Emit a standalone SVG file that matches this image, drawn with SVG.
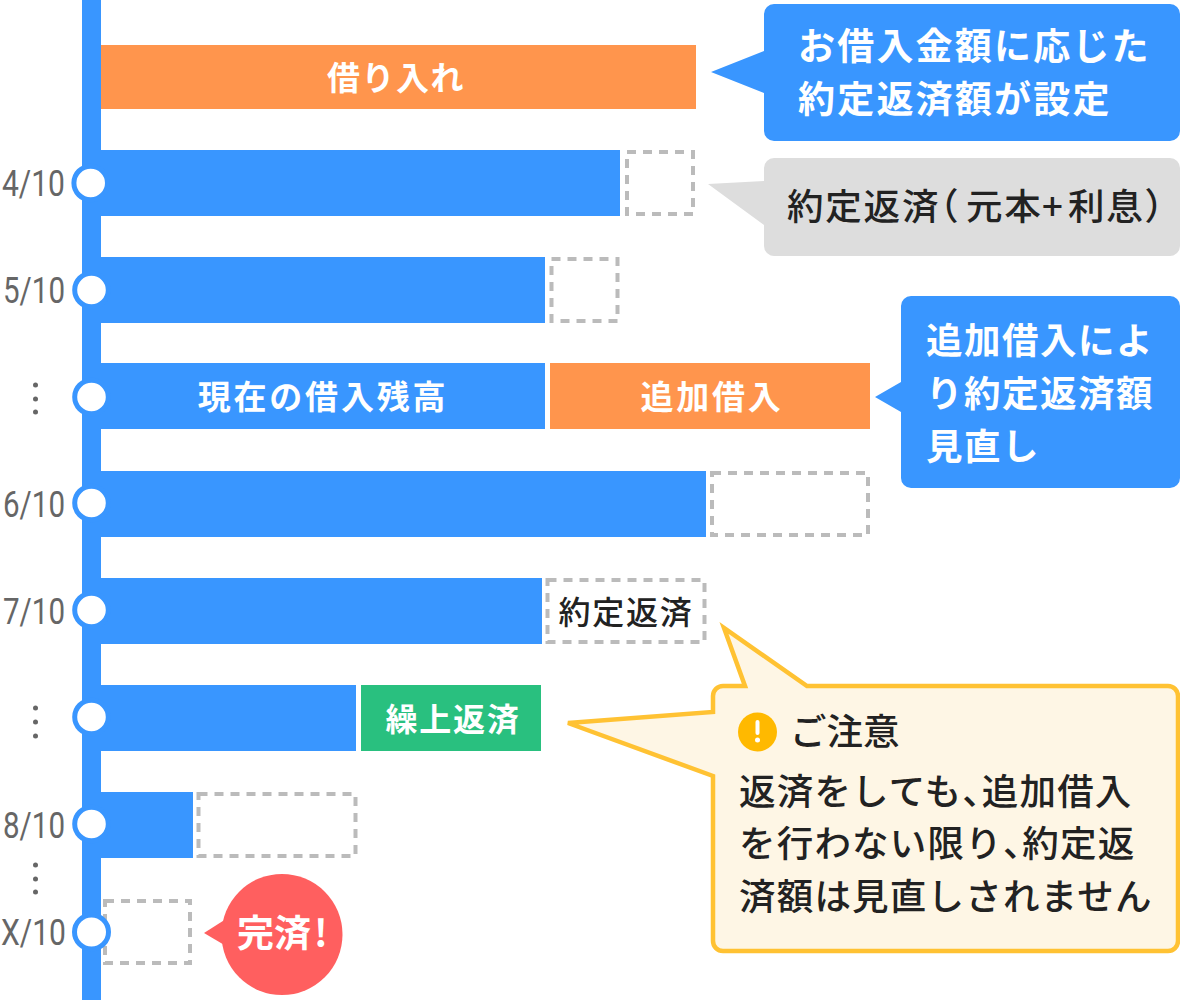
<svg xmlns="http://www.w3.org/2000/svg" width="1180" height="1000" viewBox="0 0 1180 1000">
<style>
text{font-family:"Noto Sans CJK JP","Noto Sans",sans-serif;font-weight:700}
.w{fill:#fff;font-size:33px;letter-spacing:2.500px}
.c{text-anchor:middle}
.k{fill:#222;font-size:36.500px;letter-spacing:1.200px;font-weight:500}
.h{font-feature-settings:"halt"}
.d{fill:#fff;stroke:#bbb;stroke-width:4;stroke-dasharray:9 7}
.b{fill:#3996ff}.o{fill:#ff954d}
.l{font-family:Roboto,"Liberation Sans",sans-serif;font-weight:400;font-size:36px;fill:#666}
.n{fill:#fff;stroke:#3996ff;stroke-width:5}
.v{fill:#666}
.t{font-size:36.500px}
</style>
<rect id="timeline" x="82" y="0" width="19" height="1000" class="b"/>
<g id="bars">
<rect id="bar-borrow" x="101" y="45" width="595" height="64" class="o"/>
<text class="w c" x="396" y="90" style="letter-spacing:1.500px">借り入れ</text>
<rect x="101" y="150" width="519" height="66" class="b"/>
<rect x="627" y="152" width="66" height="62" class="d"/>
<rect x="101" y="257" width="444" height="66" class="b"/>
<rect x="551.500" y="259" width="66" height="62" class="d"/>
<rect x="101" y="363" width="444" height="66" class="b"/>
<text class="w c" x="323" y="409" style="letter-spacing:2.800px">現在の借入残高</text>
<rect x="550" y="363" width="320" height="66" class="o"/>
<text class="w c" x="712" y="409" style="letter-spacing:2.800px">追加借入</text>
<rect x="101" y="471" width="605" height="66" class="b"/>
<rect x="712" y="473" width="156" height="62" class="d"/>
<rect x="101" y="578" width="441" height="66" class="b"/>
<rect x="547.500" y="580" width="157" height="62" class="d"/>
<text class="k c" x="626" y="624" style="font-size:32px;letter-spacing:1.800px">約定返済</text>
<rect x="101" y="685" width="255" height="66" class="b"/>
<rect x="361" y="685" width="180" height="66" fill="#29c07f"/>
<text class="w c" x="453" y="731" style="font-size:32px;letter-spacing:1.800px">繰上返済</text>
<rect x="101" y="792" width="92" height="66" class="b"/>
<rect x="198.500" y="794" width="157" height="62" class="d"/>
<rect x="105" y="901" width="85" height="62" class="d"/>
</g>
<g id="nodes">
<g id="n1"><text class="l" x="2" y="196" textLength="63" lengthAdjust="spacingAndGlyphs">4/10</text><circle class="n" cx="90.700" cy="183" r="16.800"/></g>
<g id="n2"><text class="l" x="3" y="303" textLength="62" lengthAdjust="spacingAndGlyphs">5/10</text><circle class="n" cx="91.500" cy="290" r="16.800"/></g>
<g id="n3"><circle class="v" cx="35.500" cy="385" r="2.500"/><circle class="v" cx="35.500" cy="399" r="2.500"/><circle class="v" cx="35.500" cy="412" r="2.500"/><circle class="n" cx="91.500" cy="397" r="16.800"/></g>
<g id="n4"><text class="l" x="3" y="517" textLength="62" lengthAdjust="spacingAndGlyphs">6/10</text><circle class="n" cx="91.500" cy="503" r="16.800"/></g>
<g id="n5"><text class="l" x="3" y="624" textLength="62" lengthAdjust="spacingAndGlyphs">7/10</text><circle class="n" cx="91.500" cy="610" r="16.800"/></g>
<g id="n6"><circle class="v" cx="35.500" cy="708" r="2.500"/><circle class="v" cx="35.500" cy="722" r="2.500"/><circle class="v" cx="35.500" cy="736" r="2.500"/><circle class="n" cx="91.500" cy="717" r="16.800"/></g>
<g id="n7"><text class="l" x="3" y="838" textLength="62" lengthAdjust="spacingAndGlyphs">8/10</text><circle class="n" cx="91.500" cy="824" r="16.800"/><circle class="v" cx="35.500" cy="865" r="2.500"/><circle class="v" cx="35.500" cy="879" r="2.500"/><circle class="v" cx="35.500" cy="892" r="2.500"/></g>
<g id="n8"><text class="l" x="1" y="945" textLength="65" lengthAdjust="spacingAndGlyphs">X/10</text><circle class="n" cx="91.500" cy="932" r="17"/></g>
</g>
<g id="callout-1"><path class="b" d="M774 4H1170a10 10 0 0 1 10 10V131a10 10 0 0 1-10 10H774a10 10 0 0 1-10-10V93L711 72L764 51V14a10 10 0 0 1 10-10Z"/>
<text class="w t" x="798" y="60" style="font-size:37px;letter-spacing:2.200px">お借入金額に応じた</text>
<text class="w t" x="798" y="113" style="font-size:37px;letter-spacing:2.200px">約定返済額が設定</text></g>
<g id="callout-2"><path fill="#ddd" d="M774 158H1170a10 10 0 0 1 10 10V246a10 10 0 0 1-10 10H774a10 10 0 0 1-10-10V225L708 184L764 181V168a10 10 0 0 1 10-10Z"/>
<text class="k" y="220" x="787" style="letter-spacing:1.800px">約定返済<tspan class="h">（</tspan><tspan x="966">元本</tspan><tspan x="1042">+</tspan><tspan x="1068">利息</tspan><tspan class="h">）</tspan></text></g>
<g id="callout-3"><path class="b" d="M911 296H1170a10 10 0 0 1 10 10V478a10 10 0 0 1-10 10H911a10 10 0 0 1-10-10V412L875 397L901 382V306a10 10 0 0 1 10-10Z"/>
<text class="w t" x="926" y="354" style="letter-spacing:1.500px">追加借入によ</text>
<text class="w t" x="926" y="407" style="letter-spacing:1.500px">り約定返済額</text>
<text class="w t" x="926" y="460" style="letter-spacing:1.500px">見直し</text></g>
<g id="callout-warning"><path fill="#fef6e5" stroke="#ffc233" stroke-width="4.500" d="M723 686H745L724 628L807 686H1168a10 10 0 0 1 10 10V941a10 10 0 0 1-10 10H723a10 10 0 0 1-10-10V776L568 723L713 712V696a10 10 0 0 1 10-10Z"/>
<circle cx="757.500" cy="732" r="19.500" fill="#ffb900"/>
<rect x="755.500" y="720" width="4" height="15" rx="2" fill="#fff"/><circle cx="757.500" cy="740" r="2.500" fill="#fff"/>
<text class="k" x="790" y="745" style="letter-spacing:0">ご注意</text>
<text class="k" x="739" y="805">返済をしても<tspan class="h">、</tspan>追加借入</text>
<text class="k" x="739" y="857">を行わない限り<tspan class="h">、</tspan>約定返</text>
<text class="k" x="739" y="910">済額は見直しされません</text></g>
<g id="done"><circle cx="282" cy="934.500" r="60.500" fill="#ff5f5f"/><path fill="#ff5f5f" d="M204 933L226 919V946Z"/>
<text class="w" x="237" y="947" style="font-size:37px;letter-spacing:0">完済<tspan x="314">!</tspan></text></g>
</svg>
